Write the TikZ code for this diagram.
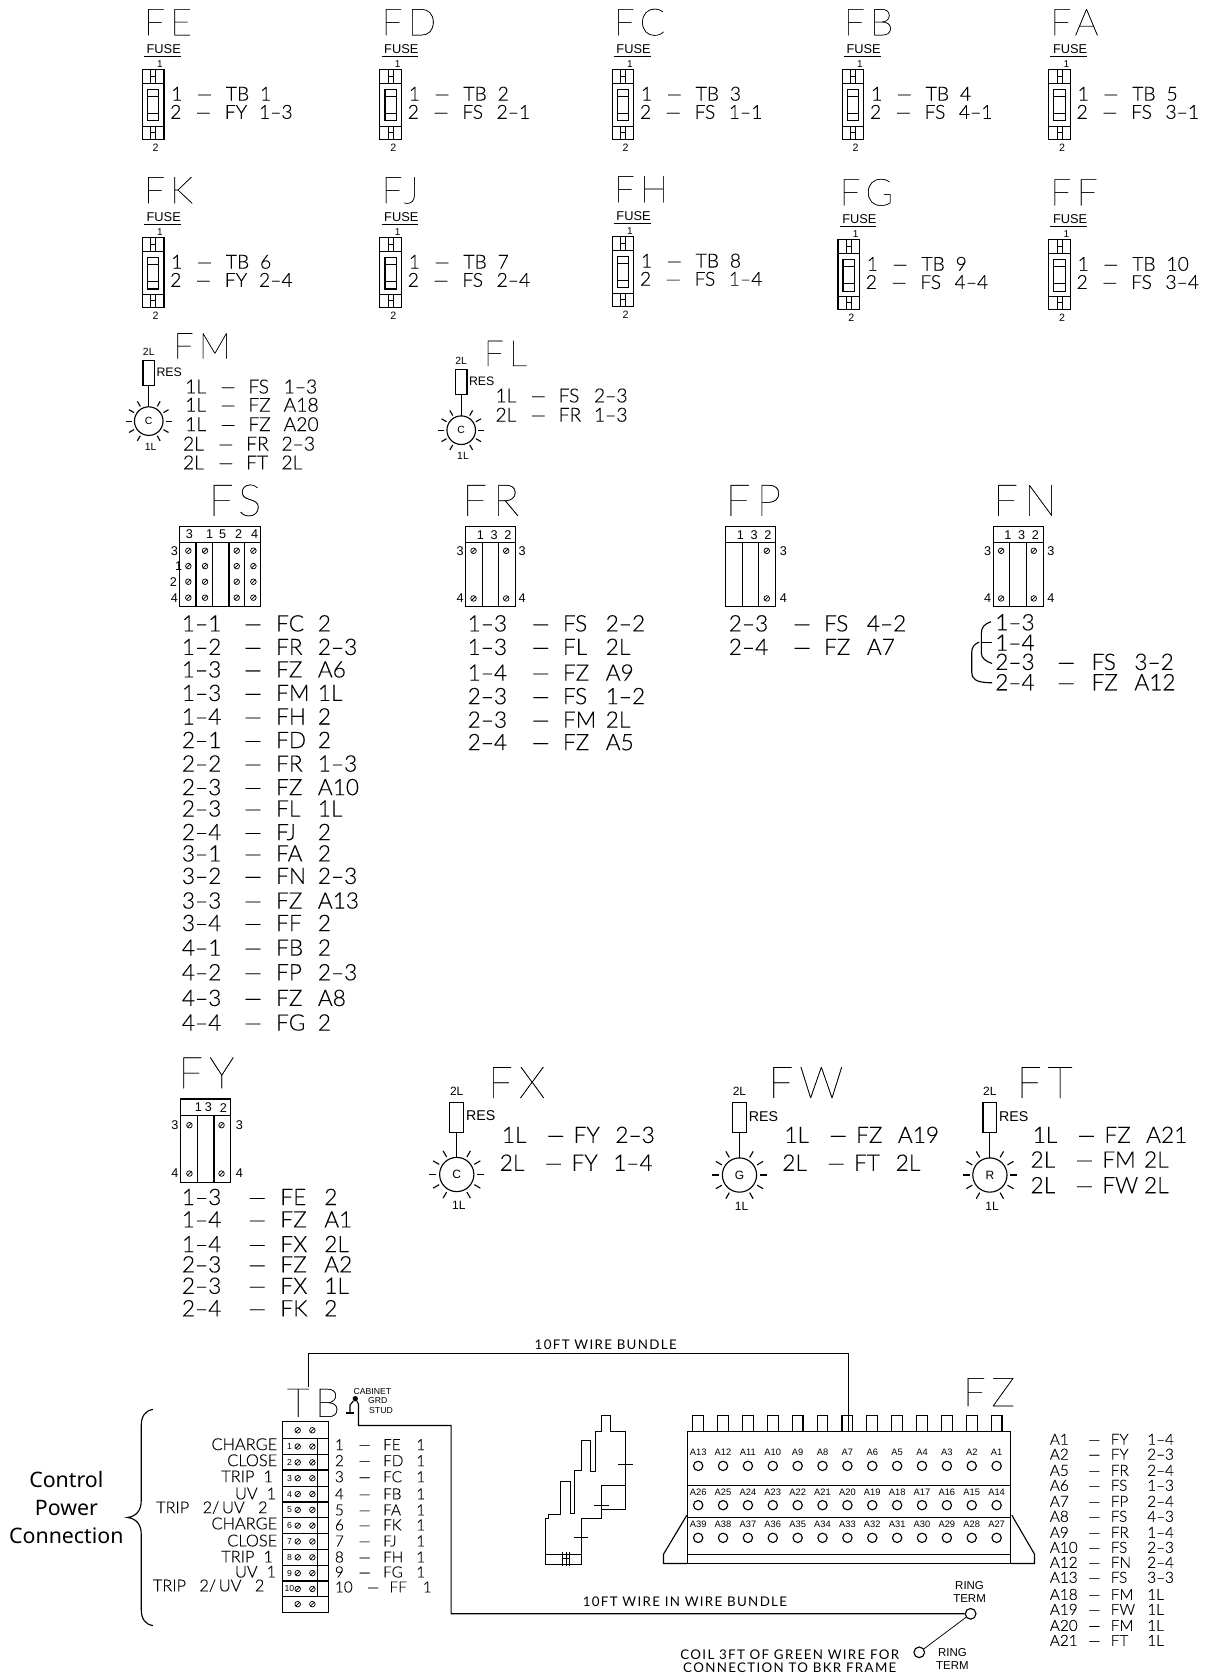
\documentclass[tikz,border=0pt]{standalone}
\usepackage{fontspec}
\setmainfont{Liberation Sans}
\newfontfamily\lt[Ligatures=TeX,FakeBold=0.15]{Lato Light}
\newfontfamily\hl[LetterSpace=14,FakeBold=0.4]{Lato Thin}
\newfontfamily\rg{Liberation Sans}
\newfontfamily\ws[LetterSpace=10]{Lato}
\newfontfamily\nt{Noto Sans}
\newcounter{tn}
\newdimen\upx \upx=0.80257pt
\newdimen\cA \newdimen\cB \newdimen\cC
\newcommand\setcols[3]{\cA=#1\upx \cB=#2\upx \cC=#3\upx}
% free text
\newcommand\T[4][cadm]{\stepcounter{tn}\node[#1] (t\thetn) at (#2,#3) {#4};}
% row with columns: style x baseline a b c d
\newcommand\R[7][cadm]{\stepcounter{tn}\node[#1] (t\thetn) at (#2,#3) {\makebox[\cA][l]{#4}\makebox[\cB][l]{#5}\makebox[\cC][l]{#6}#7};}
\newcommand\scr[2]{\draw[thin line] (#1,#2) circle[radius=2.1pt]; \draw[thin line] (#1-1.8,#2+1.8) -- (#1+1.8,#2-1.8);}
\tikzset{
  bs/.style={anchor=base west,inner sep=0,outer sep=0},
  cadm/.style={bs,font=\lt\fontsize{14.5}{15}\selectfont},
  cadl/.style={bs,font=\lt\fontsize{17}{18}\selectfont},
  cads/.style={bs,font=\lt\fontsize{11.5}{12}\selectfont},
  cadsr/.style={bs,anchor=base east,font=\lt\fontsize{12.3}{13}\selectfont},
  ttl/.style={bs,font=\hl\fontsize{#1}{#1}\selectfont},
  smalltxt/.style={anchor=center,inner sep=0,outer sep=0,font=\rg\fontsize{#1}{#1}\selectfont},
  widetxt/.style={anchor=center,inner sep=0,outer sep=0,font=\ws\fontsize{#1}{#1}\selectfont},
  line/.style={line width=0.85pt,black},
  thin line/.style={line width=0.55pt,black},
  wire/.style={line width=0.85pt,black},
}
\newcommand\fusebox[7]{%
 \begin{scope}[shift={(#1,#2)}]
  \T[ttl=28]{1.5}{-32}{#3}
  \T[smalltxt=9.6]{20}{-19}{FUSE}
  \draw[line] (1.5,-12) -- (36,-12);
  \T[smalltxt=7.5]{16.5}{-5}{1}
  \T[smalltxt=8]{12.5}{73}{2}
  \draw[line] (0,0) rectangle (20.2,65.4);
  \draw[line] (0,13) -- (20.2,13) (0,53) -- (20.2,53);
  \draw[line] (4.7,18.7) rectangle (15.5,48);
  \draw[thin line] (4.7,25) -- (15.5,25) (4.7,41) -- (15.5,41);
  \draw[thin line] (7.8,0) -- (7.8,13) (12.5,0) -- (12.5,13) (7.8,6.5) -- (12.5,6.5);
  \draw[thin line] (7.8,53) -- (7.8,65.4) (12.5,53) -- (12.5,65.4) (7.8,59) -- (12.5,59);
  \setcols{24}{27}{32}
  \R{27}{29}{1}{---}{#4}{#5}
  \R{26}{46}{2}{---}{#6}{#7}
 \end{scope}}
% lamp: cx cy letter scale font
\newcommand\lamp[5]{%
 \stepcounter{tn}\edef\lid{\thetn}%
 \pgfmathsetmacro\rsz{#5*1.42}\pgfmathsetmacro\lsz{#5*1.2}%
 \begin{scope}[shift={(#1,#2)},x=#4\upx,y=-#4\upx]
  \node[line,draw,circle,minimum size=#4*32*\upx,inner sep=0,outer sep=0,font=\rg\fontsize{\lsz}{\lsz}\selectfont] (lamp\lid) at (0,0) {#3};
  \node[line,draw,rectangle,minimum width=#4*13*\upx,minimum height=#4*28*\upx,inner sep=0,outer sep=0] (res\lid) at (0,-53.5) {};
  \draw[line] (res\lid) -- (lamp\lid);
  \foreach \a in {0,30,60,120,150,180,210,240,300,330}
   \draw[line] (\a:19) -- (\a:25.5);
  \T[smalltxt=\lsz]{0}{-78}{2L}
  \T[smalltxt=\rsz,anchor=west]{8.7}{-55}{RES}
  \T[smalltxt=\lsz]{2}{29}{1L}
 \end{scope}}
\newcommand\hdr[2]{%
  \T[smalltxt=9.5]{#1+0.30*46}{#2+8}{1}\T[smalltxt=9.5]{#1+0.58*46}{#2+8}{3}\T[smalltxt=9.5]{#1+0.86*46}{#2+8}{2}}
\newcommand\block[4]{% x ytop h hdrh
  \draw[line] (#1,#2) rectangle (#1+47,#2+#3);
  \draw[line] (#1,#2+#4) -- (#1+47,#2+#4);
  \draw[line] (#1+15.5,#2+#4) -- (#1+15.5,#2+#3) (#1+31,#2+#4) -- (#1+31,#2+#3);
  \hdr{#1}{#2}}
\begin{document}
\begin{tikzpicture}[x=0.80257pt,y=-0.80257pt]
\useasboundingbox[fill=white] (0,0) rectangle (1127,1568);
% ---- fuses
\fusebox{133}{65}{FE}{TB}{1}{FY}{1--3}
\fusebox{355}{65}{FD}{TB}{2}{FS}{2--1}
\fusebox{572}{65}{FC}{TB}{3}{FS}{1--1}
\fusebox{787}{65}{FB}{TB}{4}{FS}{4--1}
\fusebox{980}{65}{FA}{TB}{5}{FS}{3--1}
\fusebox{133}{222}{FK}{TB}{6}{FY}{2--4}
\fusebox{355}{222}{FJ}{TB}{7}{FS}{2--4}
\fusebox{572}{221}{FH}{TB}{8}{FS}{1--4}
\fusebox{783}{224}{FG}{TB}{9}{FS}{4--4}
\fusebox{980}{224}{FF}{TB}{10}{FS}{3--4}
% ---- small lamps
\lamp{139}{393.5}{C}{0.835}{6.5}
\T[ttl=27]{162}{335}{FM}
\setcols{33}{26}{33}
\foreach \y/\a/\b/\c in {367.6/1L/FS/1--3,384.7/1L/FZ/A18,402.8/1L/FZ/A20}{\R{173}{\y}{\a}{---}{\b}{\c}}
\foreach \y/\a/\b/\c in {421/2L/FR/2--3,438.6/2L/FT/2L}{\R{171}{\y}{\a}{---}{\b}{\c}}
\lamp{431}{402}{C}{0.835}{6.5}
\T[ttl=27]{452}{342}{FL}
\R{463}{376}{1L}{---}{FS}{2--3}
\R{463}{394}{2L}{---}{FR}{1--3}
% ---- FS
\T[ttl=33]{195}{482}{FS}
\draw[line] (167.6,491.6) rectangle (243.6,567);
\draw[line] (167.6,506.8) -- (243.6,506.8);
\foreach \x in {183.2,198.4,214,228.3} \draw[line] (\x,506.8) -- (\x,567);
\foreach \x in {176,191.6,221.2,236.8} \foreach \y in {514.6,529,543.6,558.5} {\scr{\x}{\y}}
\T[smalltxt=9.5]{177}{499.5}{3}\T[smalltxt=9.5]{196}{499.5}{1}\T[smalltxt=9.5]{208}{499.5}{5}\T[smalltxt=9.5]{223}{499.5}{2}\T[smalltxt=9.5]{238}{499.5}{4}
\T[smalltxt=9.5]{163}{514.6}{3}\T[smalltxt=9.5]{167}{529}{1}\T[smalltxt=9.5]{162}{543.6}{2}\T[smalltxt=9.5]{163}{558.5}{4}
\setcols{58}{30}{39}
\foreach \y/\a/\b/\c in {590/1--1/FC/2,612/1--2/FR/2--3,633/1--3/FZ/A6,655/1--3/FM/1L,677/1--4/FH/2,699/2--1/FD/2,721/2--2/FR/1--3,743/2--3/FZ/A10,763/2--3/FL/1L,785/2--4/FJ/2,805/3--1/FA/2,826/3--2/FN/2--3,849/3--3/FZ/A13,870/3--4/FF/2,893/4--1/FB/2,916/4--2/FP/2--3,940/4--3/FZ/A8,963/4--4/FG/2}{\R[cadl]{170}{\y}{\a}{---}{\b}{\c}}
% ---- FR
\T[ttl=33]{432}{482}{FR}
\block{435}{491.6}{75.5}{15.4}
\foreach \x in {442.5,473} \foreach \y in {514.7,559.2} {\scr{\x}{\y}}
\T[smalltxt=9.5]{430}{514.7}{3}\T[smalltxt=9.5]{488}{514.7}{3}\T[smalltxt=9.5]{430}{559.2}{4}\T[smalltxt=9.5]{488}{559.2}{4}
\setcols{60}{29}{40}
\foreach \y/\a/\b/\c in {590/1--3/FS/2--2,612/1--3/FL/2L,636/1--4/FZ/A9,658/2--3/FS/1--2,680/2--3/FM/2L,701/2--4/FZ/A5}{\R[cadl]{437}{\y}{\a}{---}{\b}{\c}}
% ---- FP
\T[ttl=33]{678}{482}{FP}
\block{678}{491.6}{75.5}{15.4}
\foreach \y in {514.7,559.2} {\scr{716.5}{\y}}
\T[smalltxt=9.5]{732}{514.7}{3}\T[smalltxt=9.5]{732}{559.2}{4}
\R[cadl]{681}{590}{2--3}{---}{FS}{4--2}
\R[cadl]{681}{612}{2--4}{---}{FZ}{A7}
% ---- FN
\T[ttl=33]{928}{482}{FN}
\block{928}{491.6}{75.5}{15.4}
\foreach \x in {935.5,966} \foreach \y in {514.7,559.2} {\scr{\x}{\y}}
\T[smalltxt=9.5]{923}{514.7}{3}\T[smalltxt=9.5]{982}{514.7}{3}\T[smalltxt=9.5]{923}{559.2}{4}\T[smalltxt=9.5]{982}{559.2}{4}
\setcols{58}{32}{40}
\T[cadl]{930}{589}{1--3}
\T[cadl]{930}{608}{1--4}
\R[cadl]{930}{626}{2--3}{---}{FS}{3--2}
\R[cadl]{930}{645}{2--4}{---}{FZ}{A12}
\draw[line] (926,581) .. controls (920,583) and (917,586) .. (917,592) -- (917,610) .. controls (917,615) and (921,618) .. (927,620);
\draw[line] (917,600) -- (927,600);
\draw[line] (915,600) .. controls (910,602) and (908,605) .. (908,610) -- (908,628) .. controls (908,634) and (911,638) .. (927,638);
% ---- FY
\T[ttl=33]{166.6}{1017}{FY}
\draw[line] (168.8,1027) rectangle (215.5,1105);
\draw[line] (168.8,1042.7) -- (215.5,1042.7);
\draw[line] (184.4,1042.7) -- (184.4,1105) (200,1042.7) -- (200,1105);
\T[smalltxt=9.5]{185.3}{1035}{1}\T[smalltxt=9.5]{194.7}{1035}{3}\T[smalltxt=9.5]{208.7}{1035}{2}
\foreach \x in {177,207} \foreach \y in {1051.4,1096.6} {\scr{\x}{\y}}
\T[smalltxt=9.5]{163.5}{1051.4}{3}\T[smalltxt=9.5]{223.6}{1051.4}{3}\T[smalltxt=9.5]{163.5}{1096.6}{4}\T[smalltxt=9.5]{223.6}{1096.6}{4}
\setcols{62}{30}{41}
\foreach \y/\a/\b/\c in {1126/1--3/FE/2,1147/1--4/FZ/A1,1170/1--4/FX/2L,1189/2--3/FZ/A2,1209/2--3/FX/1L,1230/2--4/FK/2}{\R[cadl]{170}{\y}{\a}{---}{\b}{\c}}
% ---- big lamps
\lamp{426.8}{1097.5}{C}{1}{7.5}
\T[ttl=33]{456}{1026}{FX}
\setcols{42}{25}{39}
\R[cadl]{469}{1068}{1L}{---}{FY}{2--3}
\R[cadl]{467}{1094}{2L}{---}{FY}{1--4}
\lamp{691}{1098}{G}{1}{7.5}
\T[ttl=33]{718}{1026}{FW}
\R[cadl]{733}{1068}{1L}{---}{FZ}{A19}
\R[cadl]{731}{1094}{2L}{---}{FT}{2L}
\lamp{925}{1098}{R}{1}{7.5}
\T[ttl=33]{950}{1026}{FT}
\R[cadl]{965}{1068}{1L}{---}{FZ}{A21}
\R[cadl]{963}{1091}{2L}{---}{FM}{2L}
\R[cadl]{963}{1115}{2L}{---}{FW}{2L}
% ---- TB
\T[ttl=30]{268}{1324}{TB}
\node[draw,line,rectangle,minimum width=43*\upx,minimum height=178.2*\upx,inner sep=0,outer sep=0] (tbbox) at (285.4,1417.8) {};
\draw[line] (263.9,1344.3) -- (306.9,1344.3) (263.9,1492.2) -- (306.9,1492.2);
\draw[line] (296.9,1344.3) -- (296.9,1492.2);
\foreach \n/\y in {1/1351.7,2/1366.5,3/1381.3,4/1396.1,5/1410.9,6/1425.6,7/1440.4,8/1455.2,9/1470,10/1484.8}{
  \T[smalltxt=6.5]{270.5}{\y}{\n}
  \scr{278.2}{\y}\scr{291.9}{\y}
}
\foreach \y/\w in {1359.1/0.55,1373.9/1.3,1388.7/0.55,1403.5/1.3,1418.3/0.55,1433/0.55,1447.8/1.3,1462.6/0.55,1477.4/1.3}
  \draw[line width=\w pt] (263.9,\y) -- (306.9,\y);
\foreach \x in {278.2,291.9} \foreach \y in {1336.5,1499} {\scr{\x}{\y}}
\T[cadsr]{259}{1355}{CHARGE}\T[cadsr]{259}{1370}{CLOSE}\T[cadsr]{255}{1385}{TRIP\ \ 1}\T[cadsr]{258}{1401}{UV\ \ 1}\T[cadsr]{250}{1414}{TRIP\ \ \ 2/\,UV\ \ \ 2}
\T[cadsr]{259}{1429}{CHARGE}\T[cadsr]{259}{1445}{CLOSE}\T[cadsr]{255}{1460}{TRIP\ \ 1}\T[cadsr]{258}{1474}{UV\ \ 1}\T[cadsr]{247}{1487}{TRIP\ \ \ 2/\,UV\ \ \ 2}
\setcols{22}{23}{31}
\foreach \n/\y/\b in {1/1355/FE,2/1370/FD,3/1385/FC,4/1401/FB,5/1416/FA,6/1430/FK,7/1445/FJ,8/1460/FH,9/1474/FG}{\R[cads]{313}{\y}{\n}{---}{\b}{1}}
\setcols{30}{21}{31}
\R[cads]{313}{1488}{10}{---}{FF}{1}
% brace + Control text
\T[bs,font=\nt\fontsize{16}{16}\selectfont,anchor=base]{62}{1390}{Control}
\T[bs,font=\nt\fontsize{16}{16}\selectfont,anchor=base]{62}{1416}{Power}
\T[bs,font=\nt\fontsize{16}{16}\selectfont,anchor=base]{62}{1442}{Connection}
\draw[line] (143,1317) .. controls (136,1318) and (132,1323) .. (132,1332) -- (132,1402) .. controls (132,1412) and (127,1417) .. (119,1418) .. controls (127,1419) and (132,1424) .. (132,1434) -- (132,1504) .. controls (132,1513) and (136,1518) .. (143,1519);
% ---- wires
\coordinate (wbstart) at (288,1296);
\coordinate (wbend) at (793,1338);
\draw[wire] (wbstart) -- (288,1265) -- (793,1265) -- (wbend);
\T[widetxt=10]{566}{1257}{10FT WIRE BUNDLE}
% cabinet
\node[fill=black,circle,inner sep=0,minimum size=4pt] (stud) at (332,1307) {};
\node[circle,draw,line,inner sep=0,minimum size=8pt] (ring1) at (907,1508) {};
\node[circle,draw,line,inner sep=0,minimum size=8pt] (ring2) at (859,1544) {};
\draw[wire] (stud) -- (335,1312) -- (335,1332) -- (421.5,1332) -- (421.5,1508) -- (ring1);
\draw[thin line] (ring1) -- (ring2);
\draw[line] (stud) -- (327,1313) -- (327,1320);
\draw[line width=1.6pt] (323,1320) -- (331,1320);
\T[smalltxt=6.5]{348}{1300}{CABINET}\T[smalltxt=6.5]{353}{1309}{GRD}\T[smalltxt=6.5]{356}{1318}{STUD}
\T[widetxt=10]{640}{1497}{10FT WIRE IN WIRE BUNDLE}
\T[smalltxt=8.6]{906}{1482}{RING}\T[smalltxt=8.6]{906}{1494}{TERM}
\T[smalltxt=8.6]{890}{1544}{RING}\T[smalltxt=8.6]{890}{1556}{TERM}
\T[widetxt=10]{738}{1546}{COIL 3FT OF GREEN WIRE FOR}
\T[widetxt=10]{738}{1558}{CONNECTION TO BKR FRAME}
% ---- left device
\begin{scope}[shift={(486,1289.7)},x=0.25pt,y=-0.25pt]
\draw[line] (75,552) -- (75,415) -- (85,415) -- (85,403) -- (120,403) -- (120,305) -- (150,305) -- (150,400) -- (162,400) -- (162,272) -- (185,272) -- (185,180) -- (212,180) -- (212,275) -- (225,275) -- (225,155) -- (245,155) -- (245,105) -- (272,105) -- (272,155) -- (317,155) -- (317,387) -- (245,387) -- (245,415) -- (183,415) -- (183,552) -- cycle;
\draw[line] (245,387) -- (245,317) -- (317,317);
\draw[line] (295,253) -- (338,253) (222,375) -- (268,375) (162,472) -- (205,472);
\draw[line] (75,522) -- (183,522);
\draw[thin line] (127,515) -- (127,557) (138,515) -- (138,557) (147,515) -- (147,557) (127,535) -- (147,535);
\end{scope}
% ---- FZ
\T[ttl=30]{900}{1314}{FZ}
\draw[line] (642.4,1338) rectangle (944.6,1461);
\draw[line] (642.4,1387.8) -- (944.6,1387.8) (642.4,1418.4) -- (944.6,1418.4) (642.4,1452.3) -- (944.6,1452.3);
\draw[line] (641.8,1415.9) -- (620,1452.3) -- (620,1461) -- (642.4,1461);
\draw[line] (945.5,1415.9) -- (966.7,1452.3) -- (966.7,1461) -- (944.6,1461);
\foreach \i in {0,...,12}{
  \pgfmathsetmacro\cx{652.4+23.24*\i}
  \draw[line] (\cx-5,1338) -- (\cx-5,1322.4) -- (\cx+5,1322.4) -- (\cx+5,1338);
  \foreach \y in {1369.8,1406.5,1437} \draw[line] (\cx,\y) circle[radius=3.5pt];
  \pgfmathtruncatemacro\aa{13-\i}
  \pgfmathtruncatemacro\bb{26-\i}
  \pgfmathtruncatemacro\cc{39-\i}
  \T[smalltxt=7]{\cx}{1357.3}{A\aa}
  \T[smalltxt=7]{\cx}{1394.7}{A\bb}
  \T[smalltxt=7]{\cx}{1424.6}{A\cc}
}
\setcols{36}{21}{34}
\foreach \y/\a/\b/\c in {1350/A1/FY/1--4,1364/A2/FY/2--3,1379/A5/FR/2--4,1393/A6/FS/1--3,1408/A7/FP/2--4,1422/A8/FS/4--3,1437/A9/FR/1--4,1451/A10/FS/2--3,1465/A12/FN/2--4,1479/A13/FS/3--3,1495/A18/FM/1L,1509/A19/FW/1L,1524/A20/FM/1L,1538/A21/FT/1L}{\R[cads]{981}{\y}{\a}{---}{\b}{\c}}
\end{tikzpicture}
\end{document}
